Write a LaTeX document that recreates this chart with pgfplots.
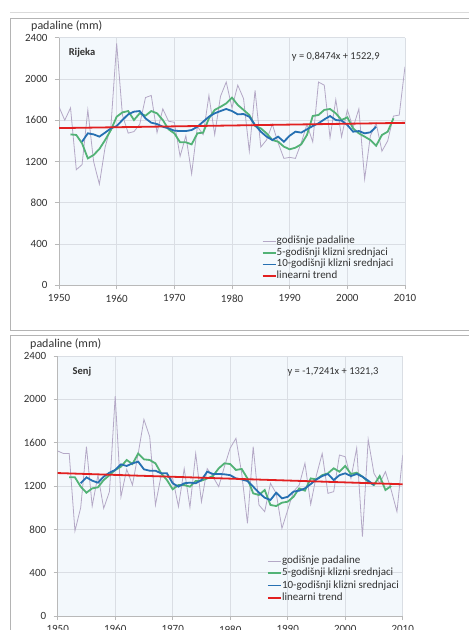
\documentclass[border=0pt]{standalone}
\usepackage{pgfplots}
\pgfplotsset{compat=1.18}
\usepackage{pgfplotstable}
\usepackage{fontspec}
\setmainfont{Carlito}
\definecolor{annual}{RGB}{180,168,198}
\definecolor{mafive}{RGB}{82,178,118}
\definecolor{maten}{RGB}{38,112,178}
\definecolor{trend}{RGB}{226,32,32}
\definecolor{bgblue}{RGB}{243,248,252}
\definecolor{gridc}{RGB}{218,222,228}
\definecolor{axisc}{RGB}{185,185,185}
\definecolor{txt}{RGB}{50,50,50}
\definecolor{framec}{RGB}{180,180,180}

\pgfplotstableread{
year annual ma5 ma10
1950 1730 nan nan
1951 1600 nan nan
1952 1720 1463 nan
1953 1120 1457 nan
1954 1170 1376 1392
1955 1700 1230 1473
1956 1200 1263 1463
1957 980 1321 1441
1958 1340 1408 1480
1959 1540 1505 1521
1960 2345 1634 1544
1961 1650 1676 1602
1962 1475 1689 1657
1963 1490 1602 1683
1964 1560 1667 1689
1965 1820 1644 1618
1966 1840 1689 1576
1967 1480 1667 1563
1968 1710 1602 1537
1969 1590 1512 1521
1970 1580 1473 1499
1971 1250 1386 1495
1972 1450 1386 1495
1973 1080 1366 1505
1974 1540 1473 1537
1975 1460 1480 1586
1976 1840 1618 1634
1977 1460 1700 1667
1978 1830 1730 1689
1979 1970 1763 1709
1980 1720 1819 1689
1981 1940 1748 1657
1982 1810 1700 1660
1983 1300 1651 1634
1984 1890 1544 1554
1985 1340 1521 1489
1986 1410 1473 1441
1987 1560 1408 1408
1988 1380 1392 1441
1989 1230 1344 1392
1990 1240 1318 1450
1991 1230 1334 1489
1992 1380 1366 1480
1993 1560 1457 1512
1994 1390 1641 1544
1995 1970 1651 1570
1996 1940 1700 1608
1997 1430 1709 1641
1998 1800 1667 1602
1999 1440 1602 1596
2000 1700 1628 1554
2001 1530 1521 1489
2002 1710 1473 1495
2003 1030 1441 1473
2004 1450 1408 1483
2005 1570 1353 1537
2006 1300 1457 nan
2007 1400 1489 nan
2008 1640 1618 nan
2009 1650 nan nan
2010 2120 nan nan
}\rijeka

\pgfplotstableread{
year annual ma5 ma10
1950 1523 nan nan
1951 1500 nan nan
1952 1500 1280 nan
1953 785 1280 nan
1954 1000 1194 1225
1955 1563 1138 1280
1956 1015 1178 1249
1957 1300 1188 1231
1958 994 1255 1286
1959 1148 1300 1323
1960 2030 1348 1348
1961 1100 1378 1400
1962 1354 1440 1385
1963 1209 1403 1409
1964 1500 1500 1425
1965 1815 1446 1354
1966 1655 1440 1341
1967 1025 1409 1341
1968 1300 1317 1317
1969 1286 1255 1317
1970 1270 1170 1225
1971 1010 1209 1194
1972 1360 1209 1225
1973 1003 1194 1231
1974 1500 1246 1225
1975 1055 1249 1255
1976 1360 1270 1332
1977 1286 1292 1311
1978 1194 1363 1311
1979 1380 1409 1308
1980 1550 1403 1300
1981 1640 1348 1270
1982 1317 1357 1261
1983 856 1270 1246
1984 1563 1132 1194
1985 1025 1117 1138
1986 963 1163 1092
1987 1225 1025 1071
1988 1132 1015 1138
1989 809 1046 1086
1990 978 1055 1100
1991 1148 1100 1148
1992 1209 1178 1157
1993 1410 1157 1178
1994 1031 1270 1218
1995 1300 1261 1261
1996 1500 1300 1292
1997 1132 1317 1311
1998 1148 1363 1255
1999 1486 1332 1300
2000 1470 1385 1317
2001 1270 1311 1292
2002 1550 1323 1311
2003 732 1286 1286
2004 1630 1240 1249
2005 1317 1209 1209
2006 1225 1292 nan
2007 1332 1163 nan
2008 1163 1200 nan
2009 963 nan nan
2010 1486 nan nan
}\senj

\pgfplotsset{
  legend image code/.code={\draw[#1] (0pt,0pt) -- (13pt,0pt);},
  panel/.style={
    scale only axis, xmin=1950, xmax=2010, ymin=0, ymax=2400,
    xtick={1950,1960,...,2010}, ytick={0,400,...,2400},
    axis x line*=bottom, axis y line*=left,
    axis line style={axisc, line width=0.8pt},
    grid=major, major grid style={gridc, line width=0.6pt},
    axis background/.style={fill=bgblue},
    tick align=outside, major tick length=4pt,
    tick style={axisc, line width=0.8pt},
    /pgf/number format/assume math mode=true,
    /pgf/number format/1000 sep={},
    ticklabel style={font=\fontsize{11}{13}\selectfont, text=txt},
    yticklabel style={xshift=-4pt},
    xticklabel style={yshift=-2pt},
    legend cell align=left,
    legend style={draw=none, fill=none, font=\fontsize{11}{13}\selectfont,
      text=txt, anchor=north west, row sep=0pt, inner sep=0pt,
      /tikz/every odd column/.style={column sep=0pt}},
  },
  ann/.style={annual, line width=0.8pt},
  five/.style={mafive, line width=1.8pt},
  ten/.style={maten, line width=1.8pt},
  tr/.style={trend, line width=1.8pt},
}

\begin{document}
\begin{tikzpicture}[x=1pt,y=1pt]
\useasboundingbox (0,0) rectangle (469,630);
\begin{scope}
\clip (0,0) rectangle (469,630);
\fill[white] (0,0) rectangle (469,630);
\draw[framec!50, line width=0.6pt] (10,617.5) -- (470,617.5);
\draw[framec, line width=0.8pt] (470,612) -- (10,612) -- (10,300) -- (470,300);
\draw[framec, line width=0.8pt] (470,295) -- (10,295) -- (10,-2);

\node[anchor=west, font=\fontsize{12}{14}\selectfont, text=txt, inner sep=0pt] at (31,604) {padaline (mm)};
\node[anchor=west, font=\fontsize{12}{14}\selectfont, text=txt, inner sep=0pt] at (30,286) {padaline (mm)};

\begin{axis}[panel, at={(59pt,344.7pt)}, anchor=south west,
  width=346pt, height=247.6pt,
  legend style={at={(axis description cs:0.585,0.202)},
    nodes={inner sep=0.3pt, text height=8pt, text depth=3pt}}]
\addplot[ann] table[x=year, y=annual] {\rijeka};
\addlegendentry{godišnje padaline}
\addplot[five] table[x=year, y=ma5] {\rijeka};
\addlegendentry{5-godišnji klizni srednjaci}
\addplot[ten] table[x=year, y=ma10] {\rijeka};
\addlegendentry{10-godišnji klizni srednjaci}
\addplot[tr] coordinates {(1950,1523.7) (2010,1574.6)};
\addlegendentry{linearni trend}
\node[anchor=west, font=\bfseries\fontsize{10.5}{12}\selectfont, text=txt] at (axis description cs:0.018,0.938) {Rijeka};
\node[font=\fontsize{10.5}{12}\selectfont, text=txt] at (axis description cs:0.80,0.922) {y = 0,8474x + 1522,9};
\end{axis}

\begin{axis}[panel, at={(57.7pt,14pt)}, anchor=south west,
  width=345pt, height=260pt,
  legend style={at={(axis description cs:0.606,0.236)},
    nodes={inner sep=0.3pt, text height=8.5pt, text depth=3.2pt}}]
\addplot[ann] table[x=year, y=annual] {\senj};
\addlegendentry{godišnje padaline}
\addplot[five] table[x=year, y=ma5] {\senj};
\addlegendentry{5-godišnji klizni srednjaci}
\addplot[ten] table[x=year, y=ma10] {\senj};
\addlegendentry{10-godišnji klizni srednjaci}
\addplot[tr] coordinates {(1950,1319.6) (2010,1216.1)};
\addlegendentry{linearni trend}
\node[anchor=west, font=\bfseries\fontsize{10.5}{12}\selectfont, text=txt] at (axis description cs:0.033,0.938) {Senj};
\node[font=\fontsize{10.5}{12}\selectfont, text=txt] at (axis description cs:0.798,0.938) {y = -1,7241x + 1321,3};
\end{axis}
\end{scope}
\end{tikzpicture}
\end{document}
